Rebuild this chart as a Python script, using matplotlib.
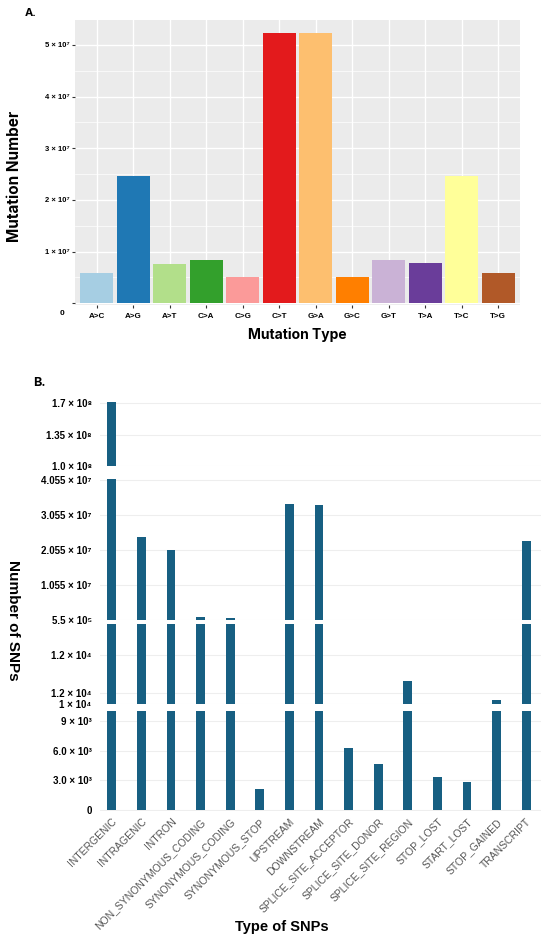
import matplotlib
matplotlib.use("Agg")
import matplotlib.pyplot as plt
import numpy as np

# ---------------- Panel A data ----------------
mut_types = ["A>C", "A>G", "A>T", "C>A", "C>G", "C>T", "G>A", "G>C", "G>T", "T>A", "T>C", "T>G"]
mut_counts = [5.8e6, 2.47e7, 7.6e6, 8.4e6, 5.1e6, 5.22e7, 5.22e7, 5.1e6, 8.4e6, 7.7e6, 2.47e7, 5.8e6]
mut_colors = ["#A6CEE3", "#1F78B4", "#B2DF8A", "#33A02C", "#FB9A99", "#E31A1C",
              "#FDBF6F", "#FF7F00", "#CAB2D6", "#6A3D9A", "#FFFF99", "#B15928"]
a_yticks = [0, 1e7, 2e7, 3e7, 4e7, 5e7]
a_ytick_labels = ["", "1 × 10⁷", "2 × 10⁷", "3 × 10⁷", "4 × 10⁷", "5 × 10⁷"]

# ---------------- Panel B data ----------------
snp_types = ["INTERGENIC", "INTRAGENIC", "INTRON", "NON_SYNONYMOUS_CODING",
             "SYNONYMOUS_CODING", "SYNONYMOUS_STOP", "UPSTREAM", "DOWNSTREAM",
             "SPLICE_SITE_ACCEPTOR", "SPLICE_SITE_DONOR", "SPLICE_SITE_REGION",
             "STOP_LOST", "START_LOST", "STOP_GAINED", "TRANSCRIPT"]
snp_counts = [1.718e8, 2.43e7, 2.04e7, 1.2e6, 9.0e5, 2.09e3, 3.37e7, 3.34e7,
              6.29e3, 4.68e3, 1.087e4, 3.3e3, 2.86e3, 1.016e4, 2.31e7]
seg_limits = [(1.0e8, 1.737e8), (5.5e5, 4.09e7), (1.0e4, 1.3e4), (-100, 1.0e4)]
seg_ticks = [[1.0e8, 1.35e8, 1.7e8],
             [5.5e5, 1.055e7, 2.055e7, 3.055e7, 4.055e7],
             [1.0e4, 1.042e4, 1.185e4],
             [0, 3.0e3, 6.0e3, 9.0e3]]
seg_tick_labels = [["1.0 × 10⁸", "1.35 × 10⁸", "1.7 × 10⁸"],
                   ["5.5 × 10⁵", "1.055 × 10⁷", "2.055 × 10⁷", "3.055 × 10⁷", "4.055 × 10⁷"],
                   ["1 × 10⁴", "1.2 × 10⁴", "1.2 × 10⁴"],
                   ["0", "3.0 × 10³", "6.0 × 10³", "9 × 10³"]]

TICKFONT = ["Liberation Sans", "DejaVu Sans"]
TITLEFONT = ["Inter", "DejaVu Sans"]

W, H = 550, 946
fig = plt.figure(figsize=(W / 100, H / 100), dpi=100)
fig.patch.set_facecolor("white")

def px_axes(left, top, right, bottom):
    return fig.add_axes([left / W, 1 - bottom / H, (right - left) / W, (bottom - top) / H])

# ---------------- Panel A ----------------
axA = px_axes(75, 20, 520, 305)
axA.set_facecolor("#EBEBEB")
xa = np.arange(len(mut_types))
axA.bar(xa, mut_counts, width=0.9, color=mut_colors, zorder=3)
axA.set_xlim(-0.6, len(mut_types) - 0.4)
axA.set_ylim(-3.3e5, 5.48e7)
axA.set_yticks(a_yticks)
axA.set_yticklabels(a_ytick_labels, fontsize=5.5, fontweight="bold", family=TICKFONT)
axA.set_yticks(np.arange(0.5e7, 5.5e7, 1e7), minor=True)
axA.set_xticks(xa)
axA.set_xticklabels(mut_types, fontsize=5.8, fontweight="bold", family=TICKFONT)
axA.grid(True, which="major", color="white", lw=1.0, zorder=0)
axA.grid(True, which="minor", axis="y", color="white", lw=0.5, zorder=0)
axA.tick_params(axis="both", which="major", length=2, color="#333333", pad=2)
axA.tick_params(axis="x", pad=4)
axA.tick_params(axis="y", which="minor", length=0)
for s in axA.spines.values():
    s.set_visible(False)
axA.set_axisbelow(True)
axA.text(-0.025, -0.03, "0", transform=axA.transAxes, ha="right", va="center",
         fontsize=6, fontweight="bold", family=TICKFONT)
axA.set_xlabel("Mutation Type", fontsize=10, fontweight="bold", family=TITLEFONT, labelpad=5)
axA.set_ylabel("Mutation Number", fontsize=11, fontweight="bold", family=TITLEFONT)
axA.yaxis.set_label_coords(-0.118, 0.45)
fig.text(25 / W, 1 - 13 / H, "A.", fontsize=8, fontweight="bold", family=TITLEFONT, va="center")

# ---------------- Panel B ----------------
seg_px = [(400, 466), (479, 619.5), (624.3, 704.3), (711, 811)]
bar_color = "#175F82"
xb = np.arange(len(snp_types))
axes_b = []
for i, ((top, bot), lim, ticks, labels) in enumerate(zip(seg_px, seg_limits, seg_ticks, seg_tick_labels)):
    ax = px_axes(100, top, 541, bot)
    ax.bar(xb, snp_counts, width=0.3, color=bar_color, zorder=3)
    ax.set_xlim(-0.4, len(snp_types) - 0.5)
    ax.set_ylim(*lim)
    ax.set_yticks(ticks)
    ax.set_yticklabels(labels, fontsize=7, fontweight="bold", family=TICKFONT)
    ax.tick_params(axis="y", length=0, pad=6)
    ax.grid(True, axis="y", color="#EEEEEE", lw=0.8, zorder=0)
    for s in ax.spines.values():
        s.set_visible(False)
    ax.set_facecolor("none")
    if i < 3:
        ax.set_xticks([])
    else:
        ax.set_xticks(xb)
        ax.set_xticklabels(snp_types, rotation=45, ha="right", rotation_mode="anchor",
                           fontsize=7.5, color="#555555", family=TICKFONT)
        ax.tick_params(axis="x", length=0, pad=4)
    axes_b.append(ax)

fig.text(282 / W, 1 - 927 / H, "Type of SNPs", ha="center", va="center",
         fontsize=10.5, fontweight="bold", family=TICKFONT)
fig.text(13 / W, 1 - 620 / H, "Number of SNPs", rotation=-90, ha="center", va="center",
         fontsize=11, fontweight="bold", family=TICKFONT)
fig.text(33 / W, 1 - 383 / H, "B.", fontsize=9, fontweight="bold", family=TITLEFONT, va="center")

fig.savefig("out.png", dpi=100, facecolor="white")
